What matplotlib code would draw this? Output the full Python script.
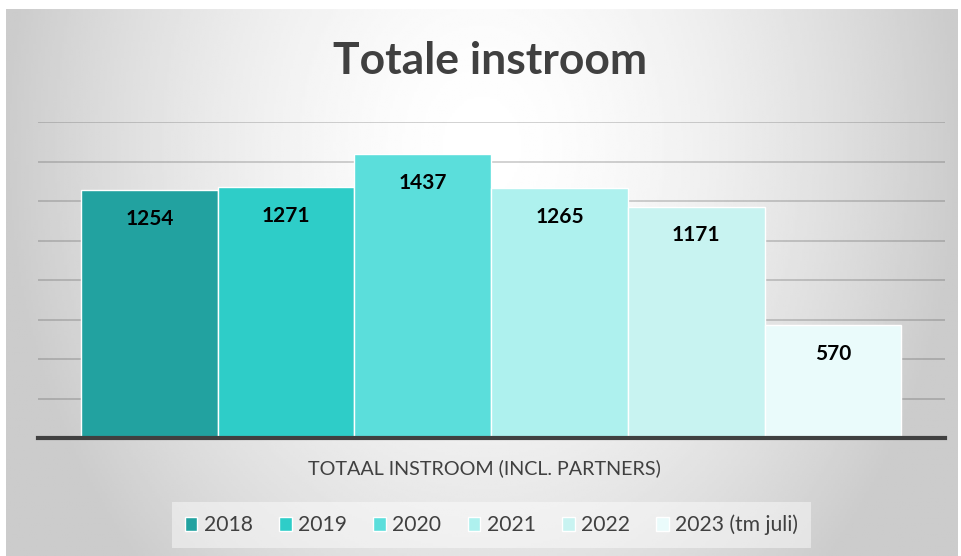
import numpy as np
import matplotlib.pyplot as plt

years = ['2018', '2019', '2020', '2021', '2022', '2023 (tm juli)']
values = [1254, 1271, 1437, 1265, 1171, 570]
colors = ['#22a2a0', '#2ecdc8', '#5bdedb', '#aef1ee', '#c8f3f1', '#eafbfb']

plt.rcParams['font.family'] = ['Lato', 'DejaVu Sans']

fig = plt.figure(figsize=(9.62, 5.56), dpi=100)

# radial gradient background of the chart area
bg = fig.add_axes([6 / 962, 0, 952 / 962, 547 / 556])
bg.set_axis_off()
gx, gy = np.meshgrid(np.linspace(-1, 1, 400), np.linspace(-1, 1, 240))
r = np.sqrt((gx / 1.0) ** 2 + ((gy + 0.5) / 2.2) ** 2)
shade = 1.0 - 0.2 * np.clip(r, 0, 1) ** 1.6
bg.imshow(shade, cmap='gray', vmin=0, vmax=1, aspect='auto',
          extent=[0, 1, 0, 1], origin='upper')
bg.set_xlim(0, 1)
bg.set_ylim(0, 1)

ax = fig.add_axes([38 / 962, 1 - 438 / 556, 907 / 962, (438 - 122) / 556])
ax.patch.set_alpha(0)

for i, (yr, v, c) in enumerate(zip(years, values, colors)):
    ax.bar(i, v, width=1.0, color=c, edgecolor='white', linewidth=1, label=yr, zorder=3)
    ax.text(i, v - 145, str(v), ha='center', va='center', fontsize=15,
            fontweight='bold', color='black', zorder=4)

ax.set_ylim(0, 1600)
ax.set_xlim(-0.5 - 0.315, 5.5 + 0.32)
ax.set_yticks(np.arange(200, 1601, 200))
ax.yaxis.grid(True, color='#505050', alpha=0.3, linewidth=1.2, zorder=0)
ax.tick_params(left=False, bottom=False, labelleft=False, labelbottom=False)
for s in ['top', 'right', 'left']:
    ax.spines[s].set_visible(False)
ax.spines['bottom'].set_color('#404040')
ax.spines['bottom'].set_linewidth(3)
ax.spines['bottom'].set_zorder(5)

fig.text(490 / 962, 1 - 61 / 556, 'Totale instroom', ha='center', va='center',
         fontsize=32, fontweight='bold', color='#404040')
fig.text(484 / 962, 1 - 468 / 556, 'TOTAAL INSTROOM (INCL. PARTNERS)', ha='center',
         va='center', fontsize=14.2, color='#404040')

leg = ax.legend(loc='center', bbox_to_anchor=(0.5, -(525 - 438) / 316), ncol=6,
                frameon=True, fontsize=15.2, handlelength=0.6, handleheight=0.6,
                handletextpad=0.3, columnspacing=1.25, borderpad=0.6,
                labelcolor='#404040')
leg.get_frame().set_facecolor('white')
leg.get_frame().set_alpha(0.45)
leg.get_frame().set_edgecolor('none')
leg.get_frame().set_boxstyle('square', pad=0)

fig.savefig('out.png', dpi=100)
